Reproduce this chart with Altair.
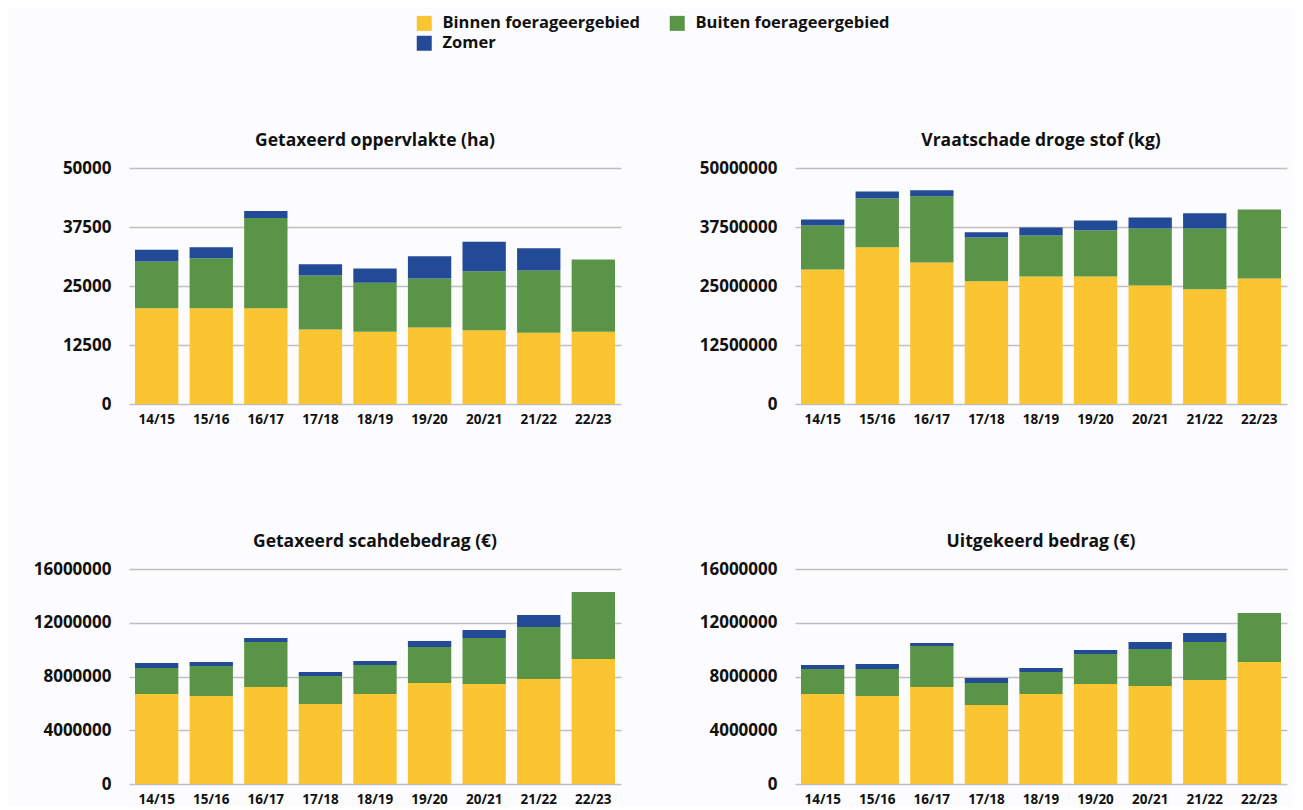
import altair as alt
import pandas as pd

seizoenen = ["14/15", "15/16", "16/17", "17/18", "18/19", "19/20", "20/21", "21/22", "22/23"]
reeksen = ["Binnen foerageergebied", "Buiten foerageergebied", "Zomer"]
kleuren = {"Binnen foerageergebied": "#FBC531", "Buiten foerageergebied": "#5A9447", "Zomer": "#234A96"}
legenda_volgorde = ["Binnen foerageergebied", "Zomer", "Buiten foerageergebied"]

# Getaxeerd oppervlakte (ha)
opp_binnen = [20300, 20300, 20300, 15800, 15300, 16200, 15600, 15100, 15300]
opp_buiten = [9900, 10600, 19100, 11400, 10400, 10400, 12500, 13200, 15300]
opp_zomer = [2500, 2300, 1500, 2400, 3000, 4700, 6300, 4700, 0]

# Vraatschade droge stof (kg)
vds_binnen = [28500000, 33200000, 30000000, 26000000, 27000000, 27000000, 25100000, 24300000, 26600000]
vds_buiten = [9300000, 10400000, 14000000, 9300000, 8700000, 9800000, 12100000, 12900000, 14600000]
vds_zomer = [1300000, 1400000, 1300000, 1100000, 1700000, 2100000, 2300000, 3200000, 0]

# Getaxeerd schadebedrag (EUR)
gsb_binnen = [6700000, 6550000, 7220000, 5950000, 6700000, 7520000, 7440000, 7820000, 9300000]
gsb_buiten = [1930000, 2230000, 3350000, 2090000, 2160000, 2680000, 3430000, 3870000, 4990000]
gsb_zomer = [370000, 300000, 300000, 300000, 300000, 450000, 590000, 890000, 0]

# Uitgekeerd bedrag (EUR)
uit_binnen = [6700000, 6550000, 7220000, 5880000, 6700000, 7440000, 7300000, 7740000, 9080000]
uit_buiten = [1860000, 2010000, 3050000, 1640000, 1640000, 2240000, 2750000, 2830000, 3650000]
uit_zomer = [300000, 370000, 230000, 370000, 290000, 300000, 520000, 670000, 0]

FONT = "Open Sans"


def paneel(titel, binnen, buiten, zomer, dmax, stap, hoogte):
    rijen = []
    for i, s in enumerate(seizoenen):
        for k, (naam, waarden) in enumerate(zip(reeksen, [binnen, buiten, zomer])):
            rijen.append({"seizoen": s, "reeks": naam, "waarde": waarden[i], "volgorde": k})
    df = pd.DataFrame(rijen)
    return alt.Chart(df).mark_bar().encode(
        x=alt.X("seizoen:N", sort=seizoenen, title=None,
                scale=alt.Scale(paddingInner=0.206, paddingOuter=0.11),
                axis=alt.Axis(labelAngle=0, labelFontSize=13.5, labelFont=FONT,
                              labelFontWeight="bold", labelColor="#111111",
                              ticks=False, domain=False, labelPadding=8)),
        y=alt.Y("waarde:Q", stack="zero", title=None,
                scale=alt.Scale(domain=[0, dmax], nice=False),
                axis=alt.Axis(values=list(range(0, dmax + 1, stap)), format="d",
                              labelFontSize=17, labelFont=FONT, labelFontWeight="bold",
                              labelColor="#111111", ticks=False, domain=False,
                              labelPadding=18, grid=True, gridColor="#BFBFBF",
                              gridWidth=1.5)),
        color=alt.Color("reeks:N",
                        scale=alt.Scale(domain=legenda_volgorde,
                                        range=[kleuren[r] for r in legenda_volgorde]),
                        legend=alt.Legend(title=None, orient="none", legendX=287, legendY=-153,
                                          columns=2, symbolType="square", symbolSize=225,
                                          symbolStrokeWidth=0, labelFontSize=16.5,
                                          labelFont=FONT, labelFontWeight="bold",
                                          labelColor="#111111", columnPadding=28,
                                          rowPadding=3, labelOffset=10, labelLimit=400)),
        order=alt.Order("volgorde:Q"),
    ).properties(
        title=alt.TitleParams(titel, fontSize=17.5, font=FONT, fontWeight="bold",
                              color="#111111", offset=10),
        width=492, height=hoogte,
    )


p1 = paneel("Getaxeerd oppervlakte (ha)", opp_binnen, opp_buiten, opp_zomer, 50000, 12500, 236)
p2 = paneel("Vraatschade droge stof (kg)", vds_binnen, vds_buiten, vds_zomer, 50000000, 12500000, 236)
p3 = paneel("Getaxeerd scahdebedrag (€)", gsb_binnen, gsb_buiten, gsb_zomer, 16000000, 4000000, 215)
p4 = paneel("Uitgekeerd bedrag (€)", uit_binnen, uit_buiten, uit_zomer, 16000000, 4000000, 215)

chart = alt.vconcat(
    alt.hconcat(p1, p2, spacing=78),
    alt.hconcat(p3, p4, spacing=78),
    spacing=106,
).properties(
    padding={"left": 25, "top": 7, "right": 5, "bottom": 0},
    background="#FCFCFE",
).configure_view(stroke=None)

chart.save("out.html", embed_options={"renderer": "svg", "actions": False})
